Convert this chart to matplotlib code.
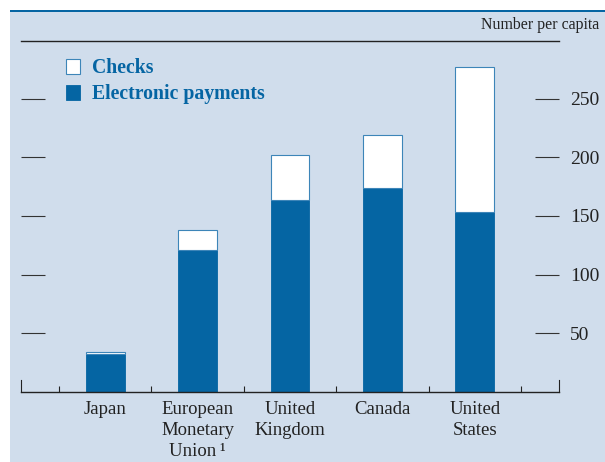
import matplotlib.pyplot as plt
from matplotlib.patches import Rectangle
import numpy as np

countries = ['Japan', 'European\nMonetary\nUnion\u2009\u00b9', 'United\nKingdom', 'Canada', 'United\nStates']
electronic = [32, 121, 164, 174, 153]
checks = [2, 17, 38, 45, 124]
yticks = [50, 100, 150, 200, 250]

blue = '#0565a3'
bg = '#d0ddec'
txt = '#222222'

plt.rcParams['font.family'] = ['Liberation Serif', 'DejaVu Serif']

fig = plt.figure(figsize=(6.05, 4.62), dpi=100)
fig.patches.append(Rectangle((10 / 605, 0), 1, 1 - 11 / 462, transform=fig.transFigure,
                             facecolor=bg, edgecolor='none', zorder=-2))
fig.patches.append(Rectangle((10 / 605, 1 - 12 / 462), 1, 2 / 462, transform=fig.transFigure,
                             facecolor=blue, edgecolor='none', zorder=-1))

ax = fig.add_axes([21 / 605, 70.5 / 462, 538 / 605, 351 / 462])
ax.set_facecolor('none')

x = np.arange(len(countries))
w = 0.42
b1 = ax.bar(x, electronic, width=w, color=blue, edgecolor=blue, linewidth=0.6,
            label='Electronic payments')
b2 = ax.bar(x, checks, width=w, bottom=electronic, color='white', edgecolor='#3d85b8',
            linewidth=0.8, label='Checks')

ax.set_xlim(-0.91, 4.91)
ax.set_ylim(0, 300)

for s in ['left', 'right']:
    ax.spines[s].set_bounds(0, 9.5)
    ax.spines[s].set_color(txt)
    ax.spines[s].set_linewidth(0.8)
for s in ['top', 'bottom']:
    ax.spines[s].set_color(txt)
    ax.spines[s].set_linewidth(1.0)

ax.set_yticks(yticks)
ax.tick_params(axis='y', which='major', direction='in', length=17.5, width=0.8,
               color='#333333', left=True, right=True, labelleft=False, labelright=True,
               labelsize=14, labelcolor=txt, pad=8)

ax.set_xticks(x)
ax.set_xticklabels(countries, fontsize=13.5, color=txt, linespacing=1.3)
ax.tick_params(axis='x', which='major', length=0, pad=7)
ax.set_xticks(np.arange(-0.5, 5, 1), minor=True)
ax.tick_params(axis='x', which='minor', direction='in', length=4.5, width=0.8, color=txt)

ax.text(1.075, 1.02, 'Number per capita', transform=ax.transAxes, ha='right', va='bottom',
        fontsize=11.4, color=txt)

leg = ax.legend(handles=[b2, b1], loc='upper left', bbox_to_anchor=(0.05, 1.0),
                frameon=False, handlelength=0.75, handleheight=0.75, handletextpad=0.6,
                labelspacing=0.3, prop={'weight': 'bold', 'size': 14.2}, labelcolor=blue)

fig.savefig('out.png', dpi=100)
